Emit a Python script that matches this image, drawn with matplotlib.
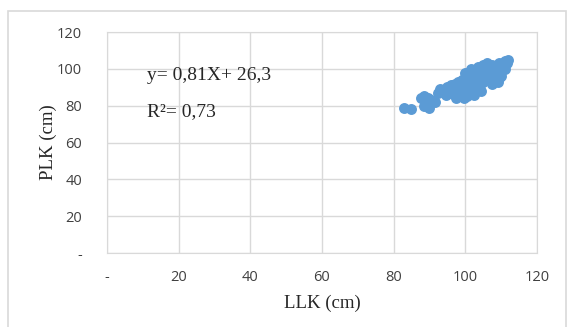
import matplotlib
matplotlib.use('Agg')
import matplotlib.pyplot as plt
from matplotlib.patches import Rectangle

# scatter data (LLK vs PLK, cm)
llk = [83, 84.8, 87.5, 88.5, 89.5, 90.5, 91.5, 88.5, 90,
       92.5, 93, 94, 94.5, 95, 95.5, 96, 96, 96.5, 97, 97, 97.5,
       98, 98, 98, 98.5, 99, 99, 99, 99.5, 99.5, 100, 100, 100, 100,
       100.5, 101, 101, 101, 101.5, 102, 102, 102, 102.5, 103, 103, 103,
       103.5, 104, 104, 104, 104.5, 105, 105, 105, 105.5, 106, 106, 106,
       106.5, 107, 107, 107.5, 108, 108, 108.5, 109, 109, 109.5, 110, 110,
       110.5, 111, 111, 111.5, 112, 100.5, 102.5, 104.5, 107.5, 109.5, 97.5, 99.5]
plk = [79, 78, 84, 85, 84, 83, 82, 80, 79,
       87, 89, 88, 86, 90, 88, 87, 91, 89, 86, 92, 90,
       88, 85, 93, 91, 89, 86, 94, 92, 84, 90, 95, 88, 98,
       93, 91, 97, 87, 100, 94, 89, 96, 92, 98, 95, 90,
       101, 94, 97, 91, 99, 96, 102, 93, 98, 95, 100, 103,
       97, 99, 94, 102, 98, 101, 96, 100, 93, 103, 99, 96,
       102, 100, 104, 103, 105, 85, 86, 88, 92, 95, 84, 87]

x_ticks = [0, 20, 40, 60, 80, 100, 120]
x_labels = ['-', '20', '40', '60', '80', '100', '120']
y_ticks = [0, 20, 40, 60, 80, 100, 120]
y_labels = ['-', '20', '40', '60', '80', '100', '120']

W, H = 567, 327
fig = plt.figure(figsize=(W / 100, H / 100), dpi=100)
fig.patch.set_facecolor('white')
fig.patches.append(Rectangle((8 / W, -0.1), (566 - 8) / W, 1.1 - 11 / H,
                             transform=fig.transFigure, fill=False,
                             edgecolor='#d9d9d9', linewidth=1.2))

ax = fig.add_axes([107 / W, 1 - 253 / H, (537 - 107) / W, (253 - 32) / H])
ax.scatter(llk, plk, s=62, color='#5b9bd5', linewidths=0, zorder=3)

ax.set_xlim(0, 120)
ax.set_ylim(0, 120)
ax.set_xticks(x_ticks)
ax.set_xticklabels(x_labels)
ax.set_yticks(y_ticks)
ax.set_yticklabels(y_labels)
ax.grid(True, color='#d9d9d9', linewidth=1)
ax.set_axisbelow(True)
for sp in ax.spines.values():
	sp.set_color('#d9d9d9')
ax.tick_params(length=0, labelsize=10.5, labelcolor='#404040')
ax.tick_params(axis='x', pad=12)
ax.tick_params(axis='y', pad=18)
for lab in ax.get_xticklabels() + ax.get_yticklabels():
	lab.set_family('Open Sans')

serif = 'Liberation Serif'
ax.set_xlabel('LLK (cm)', family=serif, fontsize=13.5, color='#262626', labelpad=7)
ax.set_ylabel('PLK (cm)', family=serif, fontsize=13.5, color='#262626', labelpad=0)

ax.text(147 / W, 1 - 76 / H, 'y= 0,81X+ 26,3', transform=fig.transFigure,
        family=serif, fontsize=14, color='#262626', va='center')
ax.text(147 / W, 1 - 112 / H, 'R²= 0,73', transform=fig.transFigure,
        family=serif, fontsize=14, color='#262626', va='center')

fig.savefig('out.png', dpi=100)
